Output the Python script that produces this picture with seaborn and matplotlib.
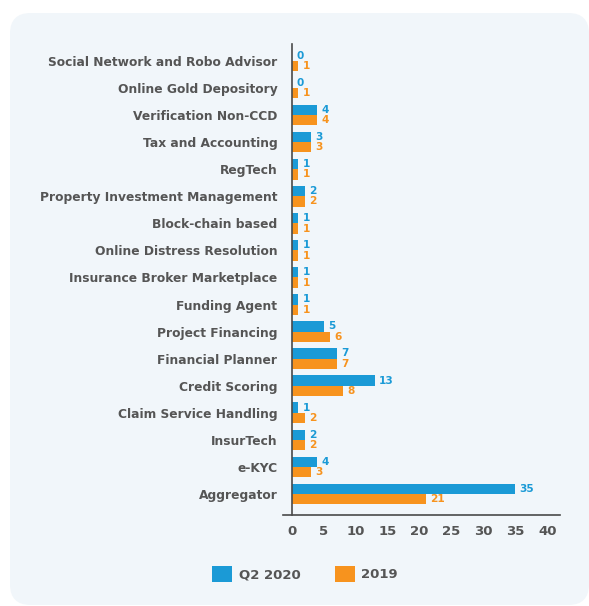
import matplotlib
matplotlib.use("Agg")
import matplotlib.pyplot as plt
from matplotlib.patches import FancyBboxPatch, Patch
import seaborn as sns
import pandas as pd

categories = [
    "Social Network and Robo Advisor", "Online Gold Depository", "Verification Non-CCD",
    "Tax and Accounting", "RegTech", "Property Investment Management", "Block-chain based",
    "Online Distress Resolution", "Insurance Broker Marketplace", "Funding Agent",
    "Project Financing", "Financial Planner", "Credit Scoring", "Claim Service Handling",
    "InsurTech", "e-KYC", "Aggregator",
]
q2_2020 = [0, 0, 4, 3, 1, 2, 1, 1, 1, 1, 5, 7, 13, 1, 2, 4, 35]
y2019 = [1, 1, 4, 3, 1, 2, 1, 1, 1, 1, 6, 7, 8, 2, 2, 3, 21]
series_names = ["Q2 2020", "2019"]
x_ticks = [0, 5, 10, 15, 20, 25, 30, 35, 40]

BLUE = "#1b9ad6"
ORANGE = "#f7931e"
TEXT = "#555555"
PANEL = "#f1f6fa"

df = pd.DataFrame({
    "category": categories * 2,
    "series": [series_names[0]] * len(categories) + [series_names[1]] * len(categories),
    "value": q2_2020 + y2019,
})

sns.set_theme(style="white")
plt.rcParams["font.family"] = ["DejaVu Sans"]

W, H = 589, 606
fig = plt.figure(figsize=(W / 100, H / 100), dpi=100)
fig.patch.set_facecolor("white")

# rounded background panel
px0, py0, px1, py1 = 10, 13, 589, 605
panel = FancyBboxPatch(
    (px0 / W, 1 - py1 / H), (px1 - px0) / W, (py1 - py0) / H,
    boxstyle="round,pad=0,rounding_size=0.035",
    transform=fig.transFigure, facecolor=PANEL, edgecolor="none", zorder=-10,
    mutation_aspect=W / H,
)
fig.patches.append(panel)

ax = fig.add_axes([283 / W, 1 - 515 / H, (560 - 283) / W, (515 - 44) / H])
ax.set_facecolor("none")

sns.barplot(
    data=df, y="category", x="value", hue="series", order=categories,
    hue_order=series_names, palette=[BLUE, ORANGE], orient="h",
    width=0.76, saturation=1, ax=ax, legend=False, linewidth=0,
)

for cont, col in zip(ax.containers, [BLUE, ORANGE]):
    ax.bar_label(cont, padding=3, color=col, fontsize=7.6, fontweight="bold")

ax.set_xlim(-1.4, 42)
ax.set_ylim(16.78, -0.63)
ax.set_xticks(x_ticks)
ax.set_xlabel("")
ax.set_ylabel("")

for s in ["top", "right"]:
    ax.spines[s].set_visible(False)
ax.spines["left"].set_position(("data", 0))
for s in ["left", "bottom"]:
    ax.spines[s].set_color("#4a4a4a")
    ax.spines[s].set_linewidth(1.2)
    ax.spines[s].set_zorder(5)

ax.tick_params(axis="y", length=0, pad=10.5, labelsize=8.8, labelcolor=TEXT)
ax.tick_params(axis="x", direction="in", length=3, width=1, color="#4a4a4a",
               pad=7, labelsize=9.5, labelcolor=TEXT)
for lbl in ax.get_yticklabels() + ax.get_xticklabels():
    lbl.set_fontweight("bold")

handles = [Patch(facecolor=BLUE, edgecolor="none"), Patch(facecolor=ORANGE, edgecolor="none")]
leg = fig.legend(
    handles, series_names, loc="center", bbox_to_anchor=(305 / W, 1 - 574 / H),
    ncol=2, frameon=False, handlelength=1.5, handleheight=1.5,
    handletextpad=0.5, columnspacing=2.6, fontsize=9.5,
)
for t in leg.get_texts():
    t.set_color(TEXT)
    t.set_fontweight("bold")

fig.savefig("out.png", dpi=100, facecolor="white")
